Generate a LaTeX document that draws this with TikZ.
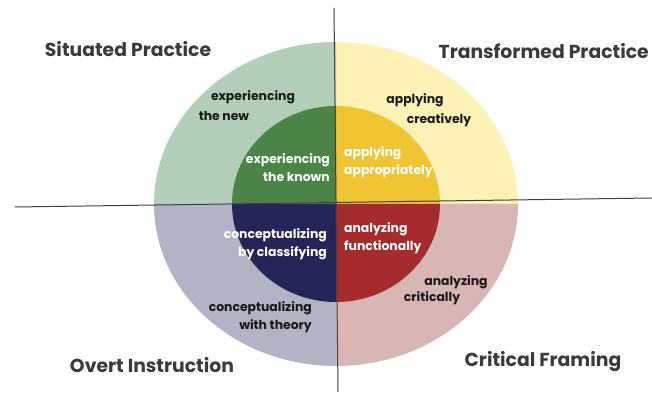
\documentclass[tikz,border=0pt]{standalone}
\usepackage{fontspec}
\setmainfont{Poppins}
\definecolor{sitlight}{HTML}{B4CFB9}
\definecolor{sitdark}{HTML}{4A8446}
\definecolor{translight}{HTML}{FCF2B5}
\definecolor{transdark}{HTML}{F0C533}
\definecolor{overtlight}{HTML}{B2B3C4}
\definecolor{overtdark}{HTML}{242658}
\definecolor{critlight}{HTML}{D8B6B3}
\definecolor{critdark}{HTML}{A52B2C}
\definecolor{titlegray}{HTML}{3A3A3A}
\tikzset{
  heading/.style={font=\bfseries\fontsize{18.8}{22}\selectfont, text=titlegray, inner sep=0pt},
  outerlabel/.style={font=\bfseries\fontsize{12.4}{18}\selectfont, text=black!90, inner sep=0pt},
  innerlabel/.style={font=\bfseries\fontsize{12.4}{18}\selectfont, text=white, inner sep=0pt},
  axis/.style={draw=black!75, line width=1pt}
}
\begin{document}
\begin{tikzpicture}[x=1pt,y=1pt]
        \useasboundingbox (0,0) rectangle (652,403);
        \coordinate (c) at (336,199);
        \foreach \a/\outer/\inner in {0/translight/transdark,90/sitlight/sitdark,180/overtlight/overtdark,270/critlight/critdark} {
                \fill[\outer] (c) -- ++({182*cos(\a)},{162*sin(\a)})
                        arc[start angle=\a, end angle=\a+90, x radius=182, y radius=162] -- cycle;
                \fill[\inner] (c) -- ++({104*cos(\a)},{98*sin(\a)})
                        arc[start angle=\a, end angle=\a+90, x radius=104, y radius=98] -- cycle;
        }
        \coordinate (top) at (334,395);
        \coordinate (bottom) at (338,11);
        \coordinate (left) at (15,196);
        \coordinate (right) at (652,205);
        \draw[axis] (top) -- (bottom);
        \draw[axis] (left) -- (right);
        \node[heading] (situated) at (128,354) {Situated Practice};
        \node[heading, anchor=east] (transformed) at (649,352) {Transformed Practice};
        \node[heading] (overt) at (152,38) {Overt Instruction};
        \node[heading] (critical) at (543,41) {Critical Framing};
        \node[outerlabel] (newA) at (253,306) {experiencing};
        \node[outerlabel] (newB) at (224,287) {the new};
        \node[outerlabel] (creativeA) at (415,303) {applying};
        \node[outerlabel] (creativeB) at (439,283) {creatively};
        \node[outerlabel, anchor=east, align=right] (theory) at (312,86) {conceptualizing\\with theory};
        \node[outerlabel] (criticalA) at (456,121) {analyzing};
        \node[outerlabel] (criticalB) at (432,105) {critically};
        \node[innerlabel, anchor=east, align=right] (known) at (330,235) {experiencing\\the known};
        \node[innerlabel, anchor=west, align=left] (appropriate) at (344,241) {applying\\appropriately};
        \node[innerlabel, anchor=east, align=right] (classify) at (327,159) {conceptualizing\\by classifying};
        \node[innerlabel, anchor=west, align=left] (functional) at (344,165) {analyzing\\functionally};
\end{tikzpicture}
\end{document}
